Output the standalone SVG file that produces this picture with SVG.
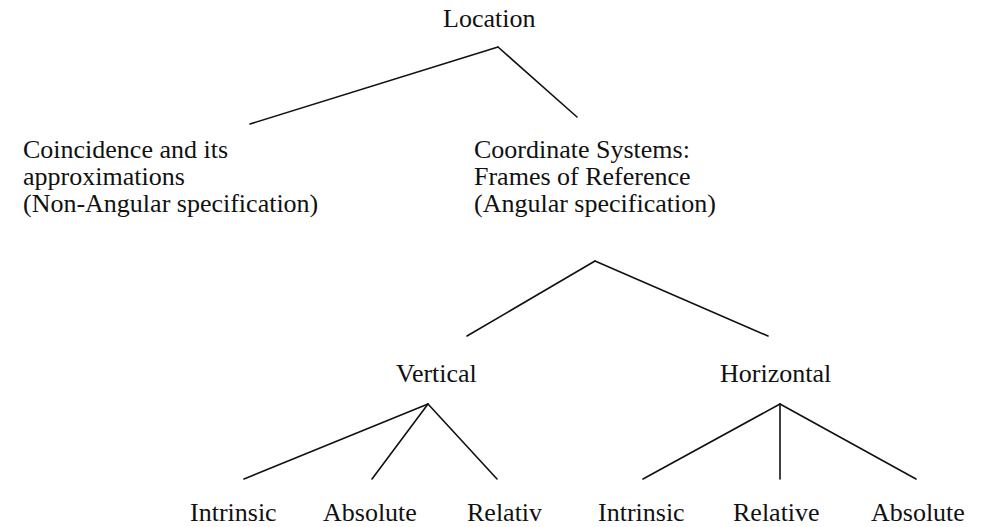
<svg xmlns="http://www.w3.org/2000/svg" width="989" height="527" viewBox="0 0 989 527">
<style>
text{font-family:"Liberation Serif","Times New Roman",serif;font-size:26px;fill:#111}
.e{stroke:#111;stroke-width:1.6;fill:none;stroke-linecap:round}
</style>
<rect width="989" height="527" fill="#fff"/>
<g id="connectors">
<line class="e" x1="498" y1="47" x2="250" y2="124"/>
<line class="e" x1="498" y1="47" x2="577" y2="117"/>
<line class="e" x1="595" y1="261" x2="467" y2="336"/>
<line class="e" x1="595" y1="261" x2="768" y2="336"/>
<line class="e" x1="428" y1="404" x2="244" y2="479"/>
<line class="e" x1="428" y1="404" x2="372" y2="479"/>
<line class="e" x1="428" y1="404" x2="497" y2="479"/>
<line class="e" x1="780" y1="404" x2="643" y2="479"/>
<line class="e" x1="780" y1="404" x2="780" y2="479"/>
<line class="e" x1="780" y1="404" x2="916" y2="479"/>
</g>
<g id="location"><text x="443" y="27">Location</text></g>
<g id="coincidence">
<text x="23" y="158">Coincidence and its</text>
<text x="23" y="185">approximations</text>
<text x="23" y="212">(Non-Angular specification)</text>
</g>
<g id="coordinate">
<text x="474" y="158">Coordinate Systems:</text>
<text x="474" y="185">Frames of Reference</text>
<text x="474" y="212">(Angular specification)</text>
</g>
<g id="vertical"><text x="396" y="382">Vertical</text></g>
<g id="horizontal"><text x="720" y="382">Horizontal</text></g>
<g id="v-intrinsic"><text x="190" y="521">Intrinsic</text></g>
<g id="v-absolute"><text x="323" y="521">Absolute</text></g>
<g id="v-relativ"><text x="467" y="521">Relativ</text></g>
<g id="h-intrinsic"><text x="598" y="521">Intrinsic</text></g>
<g id="h-relative"><text x="733" y="521">Relative</text></g>
<g id="h-absolute"><text x="871" y="521">Absolute</text></g>
</svg>
